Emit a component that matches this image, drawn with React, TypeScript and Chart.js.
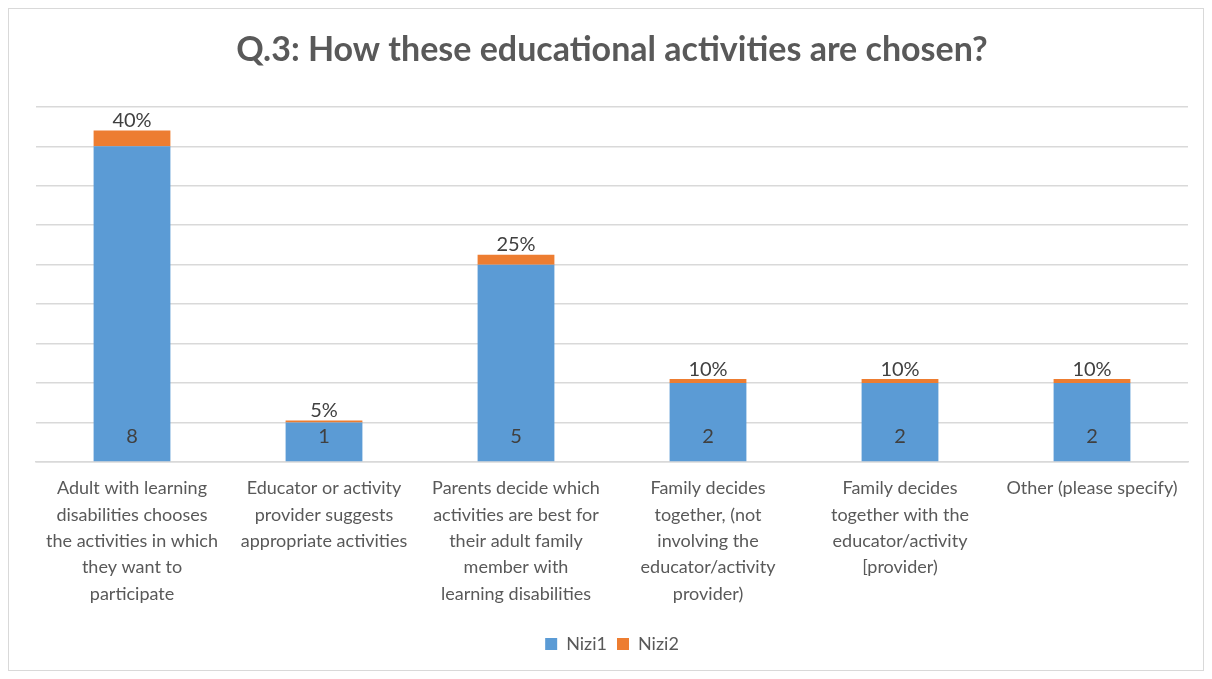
import React, { useEffect, useRef } from "react";
import { Chart, registerables } from "chart.js";

Chart.register(...registerables);

const categories: string[][] = [
  ["Adult with learning", "disabilities chooses", "the activities in which", "they want to", "participate"],
  ["Educator or activity", "provider suggests", "appropriate activities"],
  ["Parents decide which", "activities are best for", "their adult family", "member with", "learning disabilities"],
  ["Family decides", "together, (not", "involving the", "educator/activity", "provider)"],
  ["Family decides", "together with the", "educator/activity", "[provider)"],
  ["Other (please specify)"],
];

const nizi1Counts: number[] = [8, 1, 5, 2, 2, 2];
const nizi2Shares: number[] = [0.4, 0.05, 0.25, 0.1, 0.1, 0.1];

const titleText = "Q.3: How these educational activities are chosen?";
const FONT = "Lato, 'Open Sans', sans-serif";

const valueLabels = {
  id: "valueLabels",
  afterDatasetsDraw(chart: any) {
    const ctx = chart.ctx;
    ctx.save();
    ctx.font = `20px ${FONT}`;
    ctx.fillStyle = "#404040";
    ctx.textAlign = "center";
    chart.data.datasets.forEach((ds: any, di: number) => {
      const meta = chart.getDatasetMeta(di);
      meta.data.forEach((bar: any, i: number) => {
        const v = ds.data[i] as number;
        if (di === 0) {
          ctx.textBaseline = "middle";
          ctx.fillText(String(v), bar.x, bar.base - 25);
        } else {
          ctx.textBaseline = "bottom";
          ctx.fillText(`${Math.round(v * 100)}%`, bar.x, bar.y);
        }
      });
    });
    ctx.restore();
  },
};

export default function App() {
  const canvasRef = useRef<HTMLCanvasElement | null>(null);

  useEffect(() => {
    if (!canvasRef.current) return;
    const chart = new Chart(canvasRef.current, {
      type: "bar",
      data: {
        labels: categories,
        datasets: [
          {
            label: "Nizi1",
            data: nizi1Counts,
            backgroundColor: "#5B9BD5",
            barPercentage: 0.4,
            categoryPercentage: 1,
          },
          {
            label: "Nizi2",
            data: nizi2Shares,
            backgroundColor: "#ED7D31",
            barPercentage: 0.4,
            categoryPercentage: 1,
          },
        ],
      },
      options: {
        animation: false,
        responsive: true,
        maintainAspectRatio: false,
        layout: { padding: { left: 27, right: 15, top: 0, bottom: 7 } },
        plugins: {
          title: {
            display: true,
            text: titleText,
            color: "#595959",
            font: { family: FONT, size: 34, weight: "bold" },
            padding: { top: 21, bottom: 36 },
          },
          legend: {
            display: true,
            position: "bottom",
            labels: {
              color: "#595959",
              font: { family: FONT, size: 18 },
              boxWidth: 12,
              boxHeight: 12,
              padding: 10,
            },
          },
          tooltip: { enabled: false },
        },
        scales: {
          x: {
            stacked: true,
            grid: { display: false },
            border: { display: true, color: "#d9d9d9", width: 1.5 },
            ticks: {
              color: "#595959",
              font: { family: FONT, size: 18, lineHeight: 1.47 },
              maxRotation: 0,
              autoSkip: false,
              padding: 5,
            },
            afterFit: (s: any) => {
              s.height = 163;
            },
          },
          y: {
            stacked: true,
            min: 0,
            max: 9,
            ticks: { display: false, stepSize: 1 },
            grid: { color: "#d9d9d9", lineWidth: 1.5, drawTicks: false },
            border: { display: false },
            afterFit: (s: any) => {
              s.width = 0;
            },
          },
        },
      },
      plugins: [valueLabels],
    });
    return () => chart.destroy();
  }, []);

  return (
    <div
      style={{
        width: 1196,
        height: 663,
        border: "1px solid #d9d9d9",
        boxSizing: "border-box",
        background: "#fff",
      }}
    >
      <canvas ref={canvasRef} style={{ width: "100%", height: "100%" }} />
    </div>
  );
}
